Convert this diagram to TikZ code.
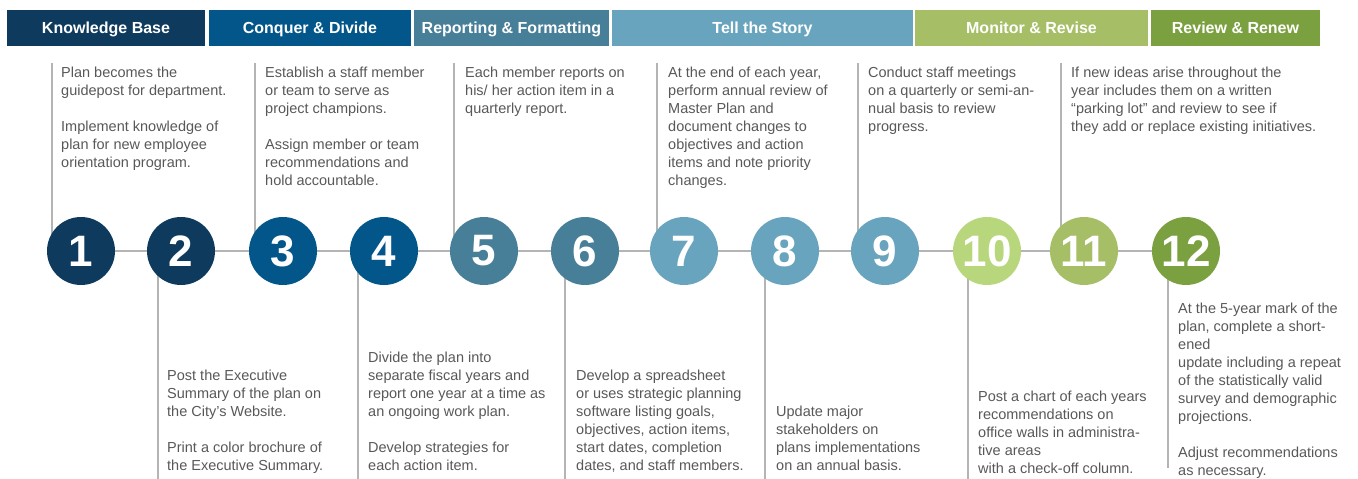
\documentclass[tikz,border=0pt]{standalone}
\usepackage{fontspec}
\setmainfont{Liberation Sans}
\usepackage{xcolor}
\usetikzlibrary{backgrounds}

\definecolor{navy}{HTML}{0E3A5E}
\definecolor{ocean}{HTML}{02568A}
\definecolor{steel}{HTML}{477F98}
\definecolor{sky}{HTML}{68A4BD}
\definecolor{lime}{HTML}{B8D77C}
\definecolor{sage}{HTML}{A6BF67}
\definecolor{olive}{HTML}{7BA03F}
\definecolor{txtgray}{HTML}{585858}
\definecolor{linegray}{HTML}{B4B4B4}

\tikzset{
  bar/.style={rectangle, fill=#1, draw=none, minimum height=35.5pt, inner sep=0pt,
    text height=11.7pt, text depth=0pt,
    text=white, font=\fontsize{16}{16}\selectfont\bfseries},
  stepdot/.style={circle, fill=#1, draw=none, minimum size=68pt, inner sep=0pt,
    text=white, font=\fontsize{44}{44}\selectfont\bfseries},
  note/.style={anchor=north west, inner sep=0pt, align=left, text=txtgray,
    font=\fontsize{14.5}{18}\selectfont, execute at begin node=\strut},
  guide/.style={draw=linegray, line width=1.4pt}
}

\begin{document}
\begin{tikzpicture}[x=1pt,y=-1pt]
\useasboundingbox (0,0) rectangle (1358,479);

% phase bars
\foreach \nm/\l/\r/\col/\txt in {kb/7/205/navy/Knowledge Base, cd/209/411/ocean/Conquer \& Divide,
  rf/414/609/steel/Reporting \& Formatting, ts/612/913/sky/Tell the Story,
  mr/915/1148/sage/Monitor \& Revise, rr/1151/1320/olive/Review \& Renew}
  \node[bar=\col, minimum width={(\r-\l)*1pt}] (\nm) at ({(\l+\r)/2},27.8) {\txt};

% numbered steps
\foreach \i/\x/\col in {1/81/navy, 2/181/navy, 3/283/ocean, 4/384/ocean, 5/484/steel, 6/585/steel,
  7/684/sky, 8/785/sky, 9/885/sky, 10/987/lime, 11/1084/sage, 12/1186/olive}
  \node[stepdot=\col] (c\i) at (\x,251) {\i};

\begin{scope}[on background layer]
\draw[guide] (c1) -- (c12);
\foreach \i/\x in {1/52, 3/255, 5/454, 7/657, 9/858, 11/1061} {
  \coordinate (t\i) at (\x,63);
  \draw[guide] (t\i) -- (t\i |- c\i);
}
\foreach \i/\x/\y in {2/158/479, 4/358/479, 6/565/479, 8/765/479, 10/968/479, 12/1168/468} {
  \coordinate (b\i) at (\x,\y);
  \draw[guide] (b\i |- c\i) -- (b\i);
}
\end{scope}

% notes above the line
\node[note] (n1) at (61,66.4) {Plan becomes the\\guidepost for department.\\[18pt]Implement knowledge of\\plan for new employee\\orientation program.};
\node[note] (n3) at (265,66.4) {Establish a staff member\\or team to serve as\\project champions.\\[18pt]Assign member or team\\recommendations and\\hold accountable.};
\node[note] (n5) at (465,66.4) {Each member reports on\\his/ her action item in a\\quarterly report.};
\node[note] (n7) at (668,66.4) {At the end of each year,\\perform annual review of\\Master Plan and\\document changes to\\objectives and action\\items and note priority\\changes.};
\node[note] (n9) at (868,66.4) {Conduct staff meetings\\on a quarterly or semi-an-\\nual basis to review\\progress.};
\node[note] (n11) at (1071,66.4) {If new ideas arise throughout the\\year includes them on a written\\“parking lot” and review to see if\\they add or replace existing initiatives.};

% notes below the line
\node[note] (n2) at (167,370) {Post the Executive\\Summary of the plan on\\the City’s Website.\\[18pt]Print a color brochure of\\the Executive Summary.};
\node[note] (n4) at (368,352) {Divide the plan into\\separate fiscal years and\\report one year at a time as\\an ongoing work plan.\\[18pt]Develop strategies for\\each action item.};
\node[note] (n6) at (576,370) {Develop a spreadsheet\\or uses strategic planning\\software listing goals,\\objectives, action items,\\start dates, completion\\dates, and staff members.};
\node[note] (n8) at (776,406) {Update major\\stakeholders on\\plans implementations\\on an annual basis.};
\node[note] (n10) at (978,391) {Post a chart of each years\\recommendations on\\office walls in administra-\\tive areas\\with a check-off column.};
\node[note] (n12) at (1178,302.5) {At the 5-year mark of the\\plan, complete a short-\\ened\\update including a repeat\\of the statistically valid\\survey and demographic\\projections.\\[18pt]Adjust recommendations\\as necessary.};
\end{tikzpicture}
\end{document}
